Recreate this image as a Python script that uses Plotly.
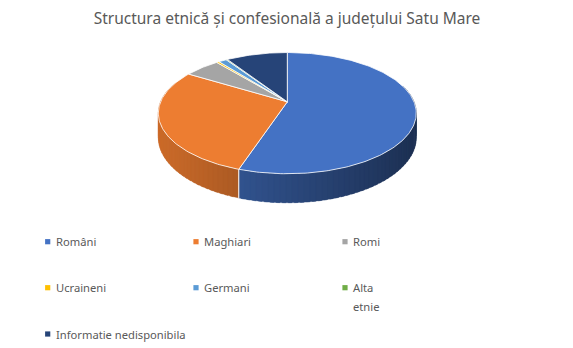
import numpy as np
import plotly.graph_objects as go

# ---- data ----
categories = ["Români", "Maghiari", "Romi", "Ucraineni", "Germani", "Alta etnie", "Informatie nedisponibila"]
legend_labels = ["Români", "Maghiari", "Romi", "Ucraineni", "Germani", "Alta<br>etnie", "Informatie nedisponibila"]
values = [55.1, 28.6, 5.3, 0.4, 1.2, 0.2, 9.2]
colors = ["#4472C4", "#ED7D31", "#A5A5A5", "#FFC000", "#5B9BD5", "#70AD47", "#264478"]
title_text = "Structura etnică și confesională a județului Satu Mare"

# ---- geometry / style ----
W, H = 573, 348
CX, CY = 287.3, 101.8      # projected pie centre (pixels)
A, B, K = 126.7, 58.5, 0.187
DEPTH = 23.6
FONT = "Noto Sans"
TXT = "#595959"


def proj(theta):
    s, c = np.sin(theta), np.cos(theta)
    d = 1 + K * c
    return CX + A * s / d, CY - B * c / d


def thick(theta):
    return DEPTH / (1 + K * np.cos(theta))


def hex2rgb(h):
    h = h.lstrip("#")
    return np.array([int(h[i:i + 2], 16) for i in (0, 2, 4)], dtype=float)


def shade(hexcol, f):
    r, g, b = np.clip(hex2rgb(hexcol) * f, 0, 255).astype(int)
    return f"rgb({r},{g},{b})"


vals = np.array(values, dtype=float)
frac = vals / vals.sum()
bounds = np.concatenate([[0.0], np.cumsum(frac)]) * 2 * np.pi

fig = go.Figure()

# side (rim) of the 3D pie: overlapping strips so no seams show
for i, col in enumerate(colors):
    t0, t1 = bounds[i], bounds[i + 1]
    n = max(2, int(np.ceil((t1 - t0) / (2 * np.pi) * 160)))
    ts = np.linspace(t0, t1, n + 1)
    step = ts[1] - ts[0]
    for a0, a1 in zip(ts[:-1], ts[1:]):
        if np.cos((a0 + a1) / 2) > 0.3:
            continue
        xm = proj((a0 + a1) / 2)[0]
        f = float(np.clip(0.86 - (xm - 160) * 0.0017, 0.42, 0.9))
        c = shade(col, f)
        b1 = min(a1 + step * 0.6, t1)
        aa = np.linspace(a0, b1, 4)
        px, py = proj(aa)
        xs = list(px) + list(px[::-1]) + [px[0]]
        ys = list(py) + list((py + thick(aa))[::-1]) + [py[0]]
        fig.add_trace(go.Scatter(x=xs, y=ys, mode="lines", fill="toself",
                                 fillcolor=c, line=dict(color=c, width=0.3),
                                 hoverinfo="skip", showlegend=False))

# white seams on the rim at slice boundaries
for t in bounds[1:-1]:
    if np.cos(t) < -0.15:
        x, y = proj(t)
        fig.add_trace(go.Scatter(x=[x, x], y=[y, y + thick(t)], mode="lines",
                                 line=dict(color="white", width=1),
                                 hoverinfo="skip", showlegend=False))

# top faces
for i, (cat, col) in enumerate(zip(categories, colors)):
    t0, t1 = bounds[i], bounds[i + 1]
    n = max(2, int(np.ceil((t1 - t0) / (2 * np.pi) * 360)))
    ts = np.linspace(t0, t1, n + 1)
    px, py = proj(ts)
    xs = [CX] + list(px) + [CX]
    ys = [CY] + list(py) + [CY]
    fig.add_trace(go.Scatter(x=xs, y=ys, mode="lines", fill="toself",
                             fillcolor=col, line=dict(color="white", width=0.8),
                             name=cat, hovertemplate=f"{cat}: {values[i]}%<extra></extra>",
                             showlegend=False))

# legend (3 columns)
col_x = [47.7, 196.0, 345.0]
row_y = [241.7, 287.7, 334.0]
annotations = []
shapes = []
for i, (lab, col) in enumerate(zip(legend_labels, colors)):
    cx_ = col_x[i % 3]
    cy_ = row_y[i // 3]
    shapes.append(dict(type="rect", xref="x", yref="y",
                       x0=cx_ - 2.6, x1=cx_ + 2.6, y0=cy_ - 2.6, y1=cy_ + 2.6,
                       fillcolor=col, line=dict(width=0)))
    for j, line in enumerate(lab.split("<br>")):
        annotations.append(dict(x=cx_ + 6.0, y=cy_ + j * 18.3, xref="x", yref="y",
                                text=line, showarrow=False, xanchor="left", yanchor="middle",
                                font=dict(family=FONT, size=11.2, color=TXT)))

fig.update_layout(
    width=W, height=H,
    margin=dict(l=0, r=0, t=0, b=0),
    paper_bgcolor="white", plot_bgcolor="white",
    title=dict(text=title_text, x=287 / W, xanchor="center", y=1 - 19 / H, yanchor="middle",
               font=dict(family=FONT, size=15.5, color=TXT)),
    xaxis=dict(range=[0, W], visible=False, fixedrange=True),
    yaxis=dict(range=[H, 0], visible=False, fixedrange=True),
    annotations=annotations,
    shapes=shapes,
    showlegend=False,
)

fig.write_html("out.html")
